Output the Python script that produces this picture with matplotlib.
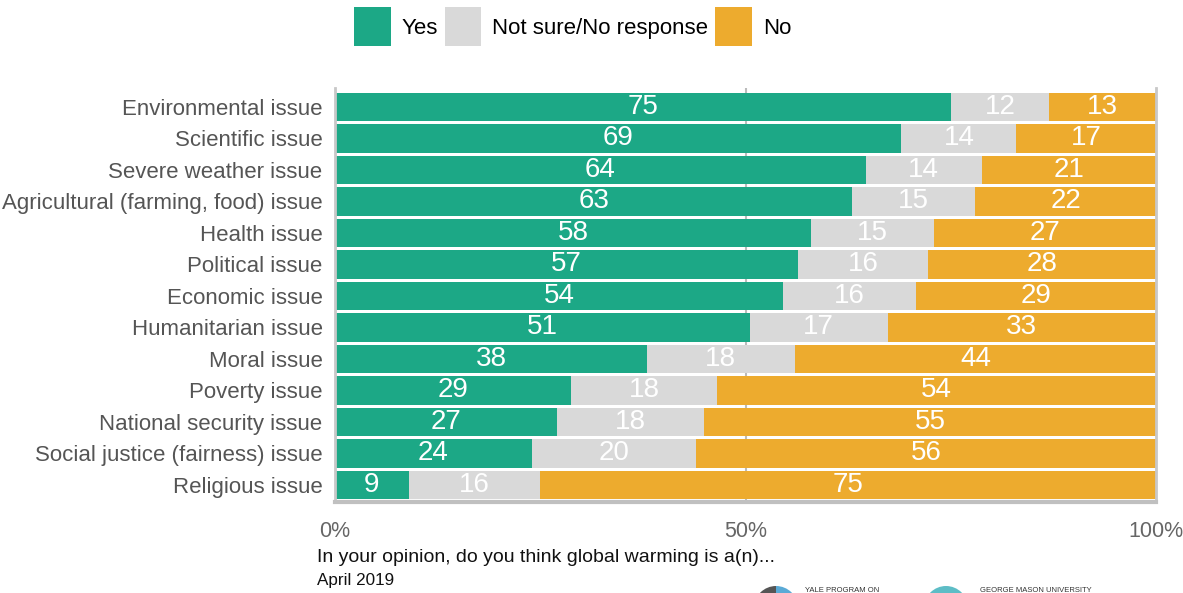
import matplotlib
matplotlib.use("Agg")
import matplotlib.pyplot as plt
from matplotlib.patches import Patch, Wedge, Circle
import numpy as np

plt.rcParams["font.family"] = ["Liberation Sans", "DejaVu Sans"]

# survey answers, percent
categories = [
    "Environmental issue",
    "Scientific issue",
    "Severe weather issue",
    "Agricultural (farming, food) issue",
    "Health issue",
    "Political issue",
    "Economic issue",
    "Humanitarian issue",
    "Moral issue",
    "Poverty issue",
    "National security issue",
    "Social justice (fairness) issue",
    "Religious issue",
]
yes = [75, 69, 64, 63, 58, 57, 54, 51, 38, 29, 27, 24, 9]
not_sure = [12, 14, 14, 15, 15, 16, 16, 17, 18, 18, 18, 20, 16]
no = [13, 17, 21, 22, 27, 28, 29, 33, 44, 54, 55, 56, 75]

series = [("Yes", yes, "#1ca886"), ("Not sure/No response", not_sure, "#d9d9d9"),
          ("No", no, "#edab2e")]

fig = plt.figure(figsize=(11.83, 5.93), dpi=100)
ax = fig.add_axes([335 / 1183, 1 - 502 / 593, (1156 - 335) / 1183, (502 - 88) / 593])

# percent-stacked: each row scaled to its own total
totals = np.array(yes) + np.array(not_sure) + np.array(no)
y = np.arange(len(categories))
left = np.zeros(len(categories))
for name, vals, color in series:
    w = np.array(vals) / totals * 100
    ax.barh(y, w, left=left, height=0.9, color=color, label=name, zorder=2)
    for yi, li, wi, v in zip(y, left, w, vals):
        ax.text(li + wi / 2, yi, str(v), ha="center", va="center",
                color="white", fontsize=20, zorder=3)
    left += w

ax.set_xlim(0, 100)
ax.set_ylim(12.54, -0.6)
ax.set_yticks(y)
ax.set_yticklabels(categories, fontsize=16, color="#555555")
ax.set_xticks([0, 50, 100])
ax.set_xticklabels(["0%", "50%", "100%"], fontsize=15.5, color="#666666")
ax.tick_params(axis="both", length=0)
ax.tick_params(axis="x", pad=14)
ax.tick_params(axis="y", pad=9)
ax.axvline(50, color="#bbbbbb", lw=1.5, zorder=1)

for s in ["left", "right"]:
    ax.spines[s].set_color("#c8c8c8")
    ax.spines[s].set_linewidth(2)
ax.spines["bottom"].set_color("#c0c0c0")
ax.spines["bottom"].set_linewidth(3)
ax.spines["top"].set_visible(False)

handles = [Patch(facecolor=c, label=n) for n, _, c in series]
fig.legend(handles=handles, loc="center", bbox_to_anchor=(0.484, 0.955), ncol=3,
           frameon=False, fontsize=16, handlelength=1.65, handleheight=2.3,
           handletextpad=0.5, columnspacing=0.3)

fig.text(317 / 1183, 1 - 558 / 593, "In your opinion, do you think global warming is a(n)...",
         fontsize=14, ha="left", va="center", color="#111111")
fig.text(317 / 1183, 1 - 581 / 593, "April 2019", fontsize=12.3, ha="left",
         va="center", color="#111111")

# partial logos at the bottom edge
deco = fig.add_axes([0, 0, 1, 1], zorder=-1)
deco.set_xlim(0, 1183)
deco.set_ylim(593, 0)
deco.axis("off")
deco.add_patch(Wedge((776, 608), 22, 90, 270, facecolor="#555555"))
deco.add_patch(Wedge((776, 608), 22, 270, 90, facecolor="#5aaad6"))
deco.add_patch(Circle((946, 608), 22, facecolor="#5dbdc6"))
deco.text(805, 591, "YALE PROGRAM ON", fontsize=5.5, color="#333333", va="center")
deco.text(980, 591, "GEORGE MASON UNIVERSITY", fontsize=5.5, color="#333333", va="center")

fig.savefig("out.png", dpi=100)
